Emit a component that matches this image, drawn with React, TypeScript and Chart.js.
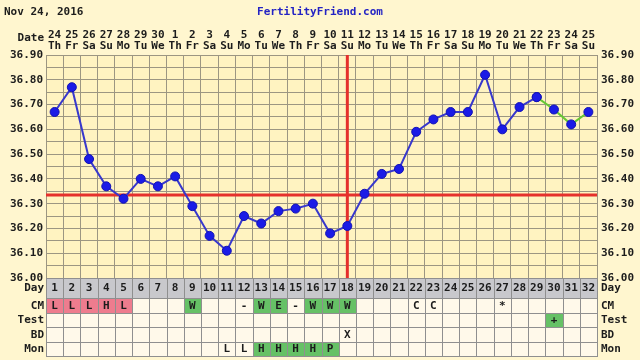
import React, { useEffect, useRef } from "react";
import { Chart, registerables } from "chart.js";

Chart.register(...registerables);

// ---------- data ----------
const cycleDays = ["1","2","3","4","5","6","7","8","9","10","11","12","13","14","15","16","17","18","19","20","21","22","23","24","25","26","27","28","29","30","31","32"];
const dates = ["24","25","26","27","28","29","30","1","2","3","4","5","6","7","8","9","10","11","12","13","14","15","16","17","18","19","20","21","22","23","24","25"];
const weekdays = ["Th","Fr","Sa","Su","Mo","Tu","We","Th","Fr","Sa","Su","Mo","Tu","We","Th","Fr","Sa","Su","Mo","Tu","We","Th","Fr","Sa","Su","Mo","Tu","We","Th","Fr","Sa","Su"];
const temps = [36.67, 36.77, 36.48, 36.37, 36.32, 36.40, 36.37, 36.41, 36.29, 36.17, 36.11, 36.25, 36.22, 36.27, 36.28, 36.30, 36.18, 36.21, 36.34, 36.42, 36.44, 36.59, 36.64, 36.67, 36.67, 36.82, 36.60, 36.69, 36.73, 36.68, 36.62, 36.67];
const mainLineLastDay = 29;
const coverline = 36.335;
const ovulationDay = 18;
const yTickValues = [36.0, 36.05, 36.1, 36.15, 36.2, 36.25, 36.3, 36.35, 36.4, 36.45, 36.5, 36.55, 36.6, 36.65, 36.7, 36.75, 36.8, 36.85, 36.9];

const cmMarks = ["L","L","L","H","L","","","","W","","","-","W","E","-","W","W","W","","","","C","C","","","","*","","","","",""];
const cmFills = ["pink","pink","pink","pink","pink","","","","green","","","","green","green","","green","green","green","","","","","","","","","","","","","",""];
const testMarks = ["","","","","","","","","","","","","","","","","","","","","","","","","","","","","","+","",""];
const testFills = ["","","","","","","","","","","","","","","","","","","","","","","","","","","","","","green","",""];
const bdMarks = ["","","","","","","","","","","","","","","","","","X","","","","","","","","","","","","","",""];
const monMarks = ["","","","","","","","","","","L","L","H","H","H","H","P","","","","","","","","","","","","","","",""];
const monFills = ["","","","","","","","","","","","","green","green","green","green","green","","","","","","","","","","","","","","",""];

// ---------- style ----------
const FONT = "bold 11px 'DejaVu Sans Mono', monospace";
const TEXT = "#1c1c1c";
const OUTER_BG = "#FFF6CF";
const PLOT_BG = "#FFF3C1";
const GRID = "#9C9682";
const CELL_BG = "#FFF9EA";
const DAY_BG = "#C8C8CC";
const CELL_BORDER = "#8F8F8F";
const PINK = "#EE7C8E";
const GREEN = "#66C166";
const RED = "#E5302C";

const fillColor = (f: string) => (f === "pink" ? PINK : f === "green" ? GREEN : CELL_BG);

const ffPlugin = {
  id: "ffPlugin",
  beforeDraw(chart: any) {
    const { ctx, chartArea: a, width, height } = chart;
    ctx.save();
    ctx.fillStyle = OUTER_BG;
    ctx.fillRect(0, 0, width, height);
    ctx.fillStyle = PLOT_BG;
    ctx.fillRect(a.left, a.top, a.right - a.left, a.bottom - a.top);
    ctx.restore();
  },
  beforeDatasetsDraw(chart: any) {
    const { ctx, chartArea: a, scales } = chart;
    const y = scales.y.getPixelForValue(coverline);
    const x = scales.x.getPixelForValue(ovulationDay - 1);
    ctx.save();
    ctx.strokeStyle = RED;
    ctx.lineWidth = 3;
    ctx.beginPath();
    ctx.moveTo(a.left, y);
    ctx.lineTo(a.right, y);
    ctx.stroke();
    ctx.beginPath();
    ctx.moveTo(x, a.top);
    ctx.lineTo(x, a.bottom);
    ctx.stroke();
    ctx.restore();
  },
  afterDraw(chart: any) {
    const { ctx, chartArea: a, scales } = chart;
    const xs = scales.x;
    ctx.save();
    ctx.font = FONT;
    ctx.textBaseline = "middle";
    // header
    ctx.fillStyle = TEXT;
    ctx.textAlign = "left";
    ctx.fillText("Nov 24, 2016", 4, 12);
    ctx.fillStyle = "#2323C4";
    ctx.textAlign = "center";
    ctx.fillText("FertilityFriend.com", 320, 12);
    ctx.fillStyle = TEXT;
    ctx.textAlign = "right";
    ctx.fillText("Date", a.left - 2, 38);

    // table
    const colW = xs.getPixelForValue(1) - xs.getPixelForValue(0);
    const rows = [
      { label: "Day", marks: cycleDays, fills: null as string[] | null, h: 20 },
      { label: "CM", marks: cmMarks, fills: cmFills, h: 14.5 },
      { label: "Test", marks: testMarks, fills: testFills, h: 14.5 },
      { label: "BD", marks: bdMarks, fills: null, h: 14.5 },
      { label: "Mon", marks: monMarks, fills: monFills, h: 14.5 },
    ];
    let top = a.bottom;
    for (const row of rows) {
      const y0 = Math.round(top);
      const y1 = Math.round(top + row.h);
      for (let i = 0; i < row.marks.length; i++) {
        const cx = xs.getPixelForValue(i);
        const l = Math.round(cx - colW / 2);
        const r = Math.round(cx + colW / 2);
        ctx.fillStyle = row.fills ? fillColor(row.fills[i]) : row.label === "Day" ? DAY_BG : CELL_BG;
        ctx.fillRect(l, y0, r - l, y1 - y0);
        ctx.strokeStyle = CELL_BORDER;
        ctx.lineWidth = 1;
        ctx.strokeRect(l + 0.5, y0 + 0.5, r - l, y1 - y0);
        if (row.marks[i]) {
          ctx.fillStyle = TEXT;
          ctx.textAlign = "center";
          ctx.fillText(row.marks[i], cx, (y0 + y1) / 2 + 0.5);
        }
      }
      ctx.fillStyle = TEXT;
      ctx.textAlign = "right";
      ctx.fillText(row.label, a.left - 2, (y0 + y1) / 2 + 0.5);
      ctx.textAlign = "left";
      ctx.fillText(row.label, a.right + 4, (y0 + y1) / 2 + 0.5);
      top += row.h;
    }
    ctx.restore();
  },
};

export default function App() {
  const ref = useRef<HTMLCanvasElement | null>(null);

  useEffect(() => {
    if (!ref.current) return;
    const blueTemps = temps.map((v, i) => (i < mainLineLastDay ? v : null));
    const greenTemps = temps.map((v, i) => (i >= mainLineLastDay - 1 ? v : null));
    const setTicks = (s: any) => {
      s.ticks = yTickValues.map((v) => ({ value: v }));
    };
    const yLabel = (v: any) => {
      const r = Math.round(Number(v) * 100);
      return r % 10 === 0 ? (r / 100).toFixed(2) : "";
    };
    const tickFont = { family: "'DejaVu Sans Mono', monospace", size: 11, weight: "bold" as const, lineHeight: 1.05 };
    const pointStyle = {
      pointRadius: 4.5,
      pointBackgroundColor: "#1B1BE6",
      pointBorderColor: "#1212B4",
      pointBorderWidth: 1,
    };
    const chart = new Chart(ref.current, {
      type: "line",
      data: {
        labels: cycleDays,
        datasets: [
          { data: blueTemps, borderColor: "#3838CC", borderWidth: 2, tension: 0, order: 1, ...pointStyle },
          { data: greenTemps, borderColor: "#66C833", borderWidth: 2, tension: 0, order: 2, ...pointStyle },
        ],
      },
      options: {
        animation: false,
        responsive: false,
        devicePixelRatio: 1,
        layout: { padding: { top: 0, left: 0, right: 0, bottom: 82 } },
        plugins: { legend: { display: false }, tooltip: { enabled: false } },
        events: [],
        scales: {
          x: {
            type: "category",
            position: "top",
            offset: true,
            afterFit: (s: any) => { s.height = 55; },
            grid: { offset: true, color: GRID, lineWidth: 1, drawTicks: false },
            border: { color: GRID },
            ticks: {
              autoSkip: false,
              maxRotation: 0,
              padding: 3,
              color: TEXT,
              font: tickFont,
              callback: (_v: any, i: number) => [dates[i], weekdays[i]],
            },
          },
          y: {
            min: 36,
            max: 36.9,
            afterBuildTicks: setTicks,
            afterFit: (s: any) => { s.width = 46; },
            grid: { color: GRID, lineWidth: 1, drawTicks: false },
            border: { color: GRID },
            ticks: { autoSkip: false, padding: 3, color: TEXT, font: tickFont, callback: yLabel },
          },
          y2: {
            position: "right",
            min: 36,
            max: 36.9,
            afterBuildTicks: setTicks,
            afterFit: (s: any) => { s.width = 43; },
            grid: { drawOnChartArea: false, drawTicks: false },
            border: { color: GRID },
            ticks: { autoSkip: false, padding: 4, color: TEXT, font: tickFont, callback: yLabel },
          },
        },
      },
      plugins: [ffPlugin],
    });
    return () => chart.destroy();
  }, []);

  return (
    <div style={{ position: "absolute", left: 0, top: 0, width: 640, height: 360 }}>
      <canvas ref={ref} width={640} height={360} style={{ display: "block" }} />
    </div>
  );
}
